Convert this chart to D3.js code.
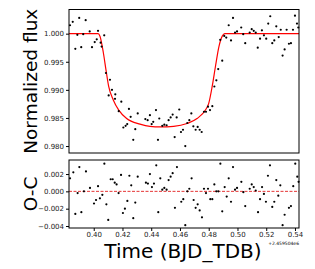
<!DOCTYPE html>
<html>
<head>
<meta charset="utf-8">
<script src="https://cdn.jsdelivr.net/npm/d3@7"></script>
<style>
  body { margin: 0; background: #fff; }
  svg { display: block; font-family: "DejaVu Sans", sans-serif; }
</style>
</head>
<body>
<div id="chart"></div>
<script>
// Observed light curve (time offset from 2459504 BJD_TDB, normalized flux)
const fluxTime = [0.3835,0.3854,0.3872,0.3886,0.3899,0.3913,0.3927,0.3944,0.3972,0.3988,
  0.4007,0.4021,0.4030,0.4048,0.4055,0.4073,0.4085,0.4104,0.4113,0.4127,
  0.4148,0.4150,0.4174,0.4192,0.4206,0.4222,0.4233,0.4245,0.4257,0.4275,
  0.4289,0.4306,0.4359,0.4375,0.4391,0.4403,0.4414,0.4433,0.4447,0.4456,
  0.4477,0.4491,0.4507,0.4521,0.4535,0.4549,0.4563,0.4577,0.4595,0.4607,
  0.4621,0.4637,0.4651,0.4665,0.4679,0.4693,0.4709,0.4723,0.4737,0.4751,
  0.4767,0.4781,0.4795,0.4809,0.4825,0.4839,0.4853,0.4866,0.4880,0.4894,
  0.4908,0.4922,0.4939,0.4955,0.4969,0.4983,0.4997,0.5026,0.5040,0.5054,
  0.5085,0.5099,0.5113,0.5127,0.5141,0.5157,0.5170,0.5184,0.5200,0.5214,
  0.5228,0.5242,0.5256,0.5270,0.5287,0.5301,0.5314,0.5328,0.5342,0.5358,
  0.5372,0.5386,0.5400,0.5414,0.5423];
const flux = [1.0015,1.0021,0.9973,0.9998,1.0028,0.9976,0.9999,1.0024,1.0004,0.9976,
  0.9985,0.9990,1.0005,0.9984,0.9977,0.9997,0.9930,0.9890,0.9918,0.9900,
  0.9884,0.9892,0.9862,0.9879,0.9833,0.9836,0.9839,0.9866,0.9852,0.9811,
  0.9830,0.9858,0.9848,0.9846,0.9855,0.9839,0.9843,0.9864,0.9811,0.9849,
  0.9836,0.9838,0.9837,0.9846,0.9851,0.9856,0.9816,0.9851,0.9865,0.9825,
  0.9829,0.9800,0.9841,0.9846,0.9858,0.9835,0.9829,0.9834,0.9829,0.9825,
  0.9861,0.9861,0.9870,0.9864,0.9871,0.9906,0.9917,0.9937,0.9989,0.9952,
  0.9996,0.9993,1.0015,0.9988,1.0028,1.0002,1.0004,1.0011,0.9999,0.9983,
  1.0002,1.0008,1.0005,1.0002,0.9975,0.9991,1.0006,0.9997,0.9991,1.0018,
  1.0031,0.9983,0.9988,1.0013,0.9994,1.0007,0.9961,0.9972,1.0007,0.9982,
  0.9983,1.0007,1.0032,1.0018,1.0011];

// Transit model
const modelTime = [0.3828,0.4030,0.4044,0.4067,0.4085,0.4104,0.4136,0.4174,0.4229,0.4322,
  0.4391,0.4463,0.4556,0.4649,0.4719,0.4777,0.4800,0.4824,0.4847,0.4871,
  0.4895,0.4911,0.5428];
const modelFlux = [1.0000,1.0000,0.9995,0.9966,0.9936,0.9906,0.9882,0.9864,0.9849,0.9839,
  0.9835,0.9834,0.9835,0.9840,0.9849,0.9864,0.9876,0.9906,0.9942,0.9977,
  0.9996,1.0000,1.0000];

// Residuals (O-C)
const resTime = [0.3835,0.3858,0.3872,0.3888,0.3900,0.3914,0.3932,0.3946,0.3974,0.4002,
  0.4016,0.4030,0.4043,0.4060,0.4074,0.4088,0.4101,0.4118,0.4132,0.4146,
  0.4159,0.4173,0.4190,0.4203,0.4217,0.4234,0.4248,0.4261,0.4275,0.4289,
  0.4306,0.4363,0.4377,0.4391,0.4405,0.4419,0.4435,0.4449,0.4463,0.4477,
  0.4491,0.4507,0.4521,0.4535,0.4549,0.4565,0.4579,0.4609,0.4623,0.4637,
  0.4651,0.4665,0.4681,0.4695,0.4709,0.4723,0.4737,0.4753,0.4767,0.4781,
  0.4795,0.4811,0.4825,0.4839,0.4853,0.4867,0.4881,0.4894,0.4911,0.4925,
  0.4939,0.4955,0.4969,0.4983,0.4997,0.5027,0.5041,0.5054,0.5085,0.5099,
  0.5113,0.5127,0.5143,0.5157,0.5171,0.5184,0.5198,0.5212,0.5226,0.5242,
  0.5256,0.5270,0.5284,0.5298,0.5314,0.5328,0.5358,0.5372,0.5388,0.5402,
  0.5416,0.5425];
const resid = [0.0015,0.0022,-0.0026,-0.0002,0.0028,-0.0024,0.0000,0.0023,0.0004,-0.0014,
  -0.0010,0.0006,-0.0008,-0.0004,0.0032,-0.0015,-0.0033,0.0014,0.0014,0.0010,
  0.0008,-0.0002,0.0019,-0.0025,-0.0020,-0.0011,0.0018,0.0007,-0.0031,-0.0013,
  0.0017,0.0010,0.0009,0.0020,0.0005,0.0009,0.0030,-0.0024,0.0015,0.0002,
  0.0004,0.0002,0.0013,0.0017,0.0021,-0.0019,0.0028,-0.0012,-0.0009,-0.0039,
  0.0000,0.0003,0.0015,-0.0010,-0.0019,-0.0015,-0.0022,-0.0030,0.0003,-0.0002,
  0.0003,-0.0009,-0.0009,0.0008,0.0000,0.0000,0.0032,-0.0023,0.0005,-0.0006,
  0.0015,-0.0012,0.0028,0.0002,0.0004,0.0011,-0.0001,-0.0017,0.0003,0.0008,
  0.0005,0.0001,-0.0024,-0.0009,0.0005,-0.0003,-0.0012,0.0018,0.0030,-0.0018,
  -0.0012,0.0013,-0.0005,0.0007,-0.0039,-0.0027,-0.0019,-0.0017,0.0006,0.0032,
  0.0017,0.0011];

const xTicks = [0.40, 0.42, 0.44, 0.46, 0.48, 0.50, 0.52, 0.54];
const fluxTicks = [0.980, 0.985, 0.990, 0.995, 1.000];
const resTicks = [-0.004, -0.002, 0.000, 0.002];

const W = 315, H = 269;
const left = 69, right = 299;
const top1 = 9.5, bot1 = 153;
const top2 = 160, bot2 = 228;

const svg = d3.select("#chart").append("svg")
    .attr("width", W)
    .attr("height", H);

const x = d3.scaleLinear().domain([0.3828, 0.5428]).range([left, right]);
const y1 = d3.scaleLinear().domain([0.97876, 1.0043]).range([bot1, top1]);
const y2 = d3.scaleLinear().domain([-0.00423, 0.00362]).range([bot2, top2]);

const fmtY = d => d3.format(".3f")(d).replace("-", "\u2212");

// Top panel axes
svg.append("g")
    .attr("transform", `translate(${left},0)`)
    .call(d3.axisLeft(y1).tickValues(fluxTicks).tickFormat(fmtY).tickSize(3).tickPadding(2));

// Bottom panel axes
svg.append("g")
    .attr("transform", `translate(${left},0)`)
    .call(d3.axisLeft(y2).tickValues(resTicks).tickFormat(fmtY).tickSize(3).tickPadding(2));

svg.append("g")
    .attr("transform", `translate(0,${bot2})`)
    .call(d3.axisBottom(x).tickValues(xTicks).tickFormat(d3.format(".2f")).tickSize(3).tickPadding(1.5));

svg.selectAll(".tick text")
    .style("font-size", "7px")
    .style("font-family", "DejaVu Sans")
    .attr("fill", "#222");
svg.selectAll(".domain").remove();

// Model curve
const line = d3.line()
    .x((d, i) => x(modelTime[i]))
    .y(d => y1(d))
    .curve(d3.curveMonotoneX);

svg.append("path")
    .datum(modelFlux)
    .attr("fill", "none")
    .attr("stroke", "#ff0000")
    .attr("stroke-width", 1.2)
    .attr("d", line);

// Data points
svg.append("g")
    .selectAll("circle")
    .data(flux)
    .join("circle")
      .attr("cx", (d, i) => x(fluxTime[i]))
      .attr("cy", d => y1(d))
      .attr("r", 1.1)
      .attr("fill", "#000");

// Zero line for residuals
svg.append("line")
    .attr("x1", left).attr("x2", right)
    .attr("y1", y2(0)).attr("y2", y2(0))
    .attr("stroke", "#e00000")
    .attr("stroke-width", 0.8)
    .attr("stroke-dasharray", "3,1.5");

svg.append("g")
    .selectAll("circle")
    .data(resid)
    .join("circle")
      .attr("cx", (d, i) => x(resTime[i]))
      .attr("cy", d => y2(d))
      .attr("r", 1.1)
      .attr("fill", "#000");

// Frames
[[top1, bot1], [top2, bot2]].forEach(([t, b]) => {
  svg.append("rect")
    .attr("x", left).attr("y", t)
    .attr("width", right - left).attr("height", b - t)
    .attr("fill", "none")
    .attr("stroke", "#000")
    .attr("stroke-width", 1);
});

// Axis labels
svg.append("text")
    .attr("transform", `translate(37,${(top1 + bot1) / 2}) rotate(-90)`)
    .attr("text-anchor", "middle")
    .style("font-size", "18.5px")
    .text("Normalized flux");

svg.append("text")
    .attr("transform", `translate(37,${(top2 + bot2) / 2}) rotate(-90)`)
    .attr("text-anchor", "middle")
    .style("font-size", "18.5px")
    .text("O-C");

svg.append("text")
    .attr("x", (left + right) / 2 - 1)
    .attr("y", 258)
    .attr("text-anchor", "middle")
    .style("font-size", "20px")
    .text("Time (BJD_TDB)");

svg.append("text")
    .attr("x", right)
    .attr("y", 245)
    .attr("text-anchor", "end")
    .style("font-size", "4.5px")
    .text("+2.459504e6");
</script>
</body>
</html>
